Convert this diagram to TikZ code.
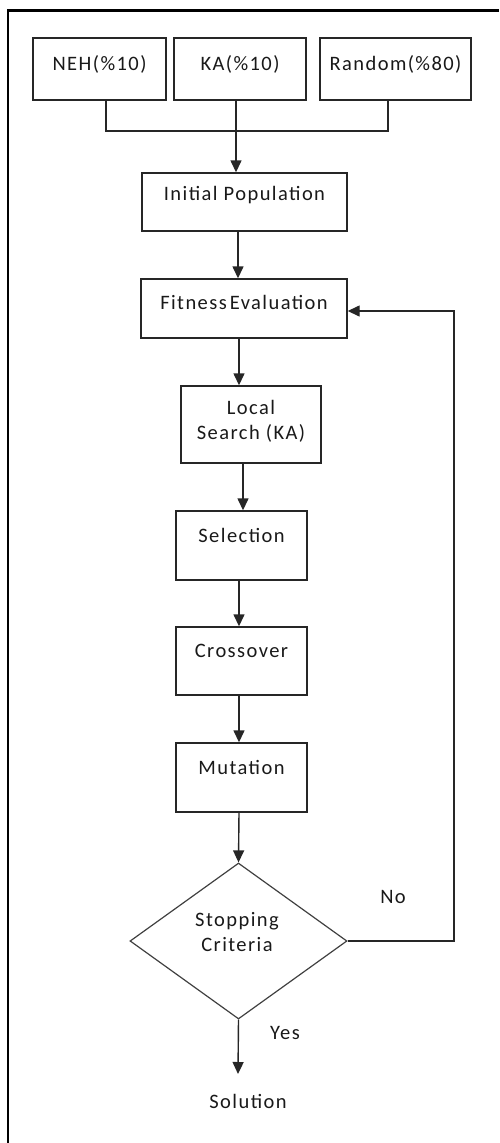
\documentclass[tikz,border=0pt]{standalone}
\usepackage{fontspec}
\setmainfont{Carlito}[LetterSpace=7]
\usetikzlibrary{arrows.meta,shapes.geometric}
\begin{document}
\begin{tikzpicture}[x=1pt,y=-1pt,
  box/.style={draw=black!85,line width=1.4pt,rectangle,inner sep=0pt},
  txt/.style={font=\fontsize{20.5}{25}\selectfont,text=black!90,align=center,inner sep=0pt},
  conn/.style={draw=black!85,line width=1.4pt},
  arr/.style={conn,-{Triangle[width=11pt,length=12pt]}},
  dia/.style={draw=black!75,line width=1.2pt,diamond,inner sep=0pt}]
\useasboundingbox (0,0) rectangle (499,1143);
% frame (cropped)
\draw[line width=2.4pt,black] (8,1143) -- (8,10.5) -- (499,10.5);
% top boxes
\node[box,minimum width=133pt,minimum height=62pt] (neh) at (99.5,69) {};
\node[box,minimum width=132pt,minimum height=62pt] (ka) at (240,69) {};
\node[box,minimum width=151pt,minimum height=62pt] (rnd) at (395.5,69) {};
\node[txt] (nehT) at (99.5,64) {NEH(\%10)};
\node[txt] (kaT) at (240,64) {KA(\%10)};
\node[txt] (rndT) at (395.5,64) {Random(\%80)};
% main boxes
\node[box,minimum width=205pt,minimum height=58pt] (init) at (244.5,202) {};
\node[txt] (initT) at (244.5,195) {Initial Population};
\node[box,minimum width=206pt,minimum height=59pt] (fit) at (244,308.5) {};
\node[txt] (fitT) at (244,302) {Fitness\hspace{3pt}Evaluation};
\node[box,minimum width=140pt,minimum height=77pt] (loc) at (251,424.5) {};
\node[txt] (locT) at (251,421.5) {Local\\Search (KA)};
\node[box,minimum width=131pt,minimum height=69pt] (sel) at (241.5,545.5) {};
\node[txt] (selT) at (241.5,535) {Selection};
\node[box,minimum width=131pt,minimum height=68pt] (cro) at (241.5,661) {};
\node[txt] (croT) at (241.5,651) {Crossover};
\node[box,minimum width=131pt,minimum height=69pt] (mut) at (241.5,777.5) {};
\node[txt] (mutT) at (241.5,767) {Mutation};
% decision
\node[dia,minimum width=217pt,minimum height=156pt] (stop) at (238.5,941) {};
\node[txt] (stopT) at (237,932.5) {Stopping\\Criteria};
\node[txt] (sol) at (248,1101) {Solution};
\node[txt] (no) at (393,897) {No};
\node[txt] (yes) at (285,1033) {Yes};
% connectors
\coordinate (j) at (236,131);
\draw[conn] (neh.south -| 106,0) -- (106,131) -- (388,131) -- (rnd.south -| 388,0);
\draw[arr] (ka.south -| j) -- (init.north -| j);
\draw[arr] (init.south -| 238,0) -- (fit.north -| 238,0);
\draw[arr] (fit.south -| 239,0) -- (loc.north -| 239,0);
\draw[arr] (loc.south -| 243,0) -- (sel.north -| 243,0);
\draw[arr] (sel.south -| 239,0) -- (cro.north -| 239,0);
\draw[arr] (cro.south -| 239,0) -- (mut.north -| 239,0);
\draw[arr] (mut.south -| 239,0) -- (stop.north);
\draw[arr] (stop.east) -- (454,941) -- (454,311) -- (fit.east |- 0,311);
\coordinate (solTop) at (238,1074);
\draw[arr] (stop.south) -- (solTop);
\end{tikzpicture}
\end{document}
